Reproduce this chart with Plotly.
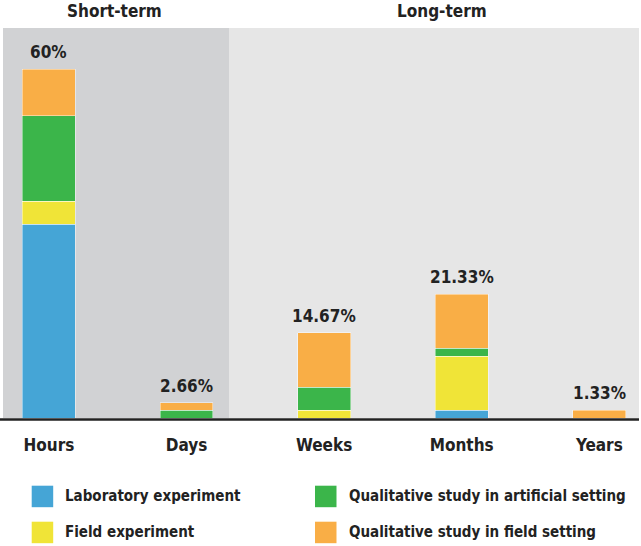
import plotly.graph_objects as go

# ---------------- data ----------------
categories = ["Hours", "Days", "Weeks", "Months", "Years"]
series_names = [
    "Laboratory experiment",
    "Field experiment",
    "Qualitative study in artificial setting",
    "Qualitative study in field setting",
]
lab_experiment = [33.33, 0.0, 0.0, 1.33, 0.0]
field_experiment = [4.0, 0.0, 1.33, 9.33, 0.0]
qual_artificial = [14.67, 1.33, 4.0, 1.33, 0.0]
qual_field = [8.0, 1.33, 9.33, 9.33, 1.33]
total_labels = ["60%", "2.66%", "14.67%", "21.33%", "1.33%"]
group_titles = ["Short-term", "Long-term"]

# ---------------- styles ----------------
colors = ["#45A5D6", "#F0E437", "#3BB54A", "#F9AE46"]
FONT = "DejaVu Sans Condensed, Liberation Sans Narrow, sans-serif"
TXT = "#222222"
W, H = 641, 546
L, R, T, B = 3, 2, 28, 128
PW, PH = W - L - R, H - T - B

def px_x(x):
    return (x - L) / PW

def px_y(y):
    return (H - B - y) / PH

series_values = [lab_experiment, field_experiment, qual_artificial, qual_field]

fig = go.Figure()
for name, vals, col in zip(series_names, series_values, colors):
    fig.add_trace(go.Bar(
        x=categories, y=vals, name=name,
        marker=dict(color=col, line=dict(color="rgba(255,255,255,0.55)", width=0.8)),
        width=0.385, showlegend=False, hoverinfo="skip",
    ))

totals = [sum(v) for v in zip(*series_values)]
annotations = []
for cat, tot, lab in zip(categories, totals, total_labels):
    annotations.append(dict(
        x=cat, y=tot, xref="x", yref="y", text=lab, showarrow=False,
        yanchor="bottom", yshift=5,
        font=dict(family=FONT, size=17, color=TXT, weight="bold"),
    ))

# group titles
for title, px in zip(group_titles, [114, 442]):
    annotations.append(dict(
        x=px_x(px), y=px_y(11), xref="paper", yref="paper", text=title,
        showarrow=False, xanchor="center", yanchor="middle",
        font=dict(family=FONT, size=17, color=TXT, weight="bold"),
    ))

shapes = [
    dict(type="rect", xref="paper", yref="paper", x0=0, x1=px_x(229), y0=0, y1=1,
         fillcolor="#D1D2D4", line=dict(width=0), layer="below"),
    dict(type="rect", xref="paper", yref="paper", x0=px_x(229), x1=1, y0=0, y1=1,
         fillcolor="#E6E6E6", line=dict(width=0), layer="below"),
    dict(type="line", xref="paper", yref="paper", x0=px_x(0), x1=1, y0=px_y(419.5), y1=px_y(419.5),
         line=dict(color=TXT, width=2.5), layer="above"),
]

# manual legend (2 columns x 2 rows)
col_sw_x = [31.7, 315]
row_sw_y = [485.7, 521.7]
sw = 21.5
for i, (name, col) in enumerate(zip(series_names, colors)):
    c, r = i // 2, i % 2
    x0, y0 = col_sw_x[c], row_sw_y[r]
    shapes.append(dict(type="rect", xref="paper", yref="paper",
                       x0=px_x(x0), x1=px_x(x0 + sw), y0=px_y(y0 + sw), y1=px_y(y0),
                       fillcolor=col, line=dict(width=0)))
    annotations.append(dict(
        x=px_x(x0 + sw + 10), y=px_y(y0 + sw / 2), xref="paper", yref="paper",
        text=name, showarrow=False, xanchor="left", yanchor="middle",
        font=dict(family=FONT, size=15, color=TXT, weight="bold"),
    ))

fig.update_layout(
    width=W, height=H,
    margin=dict(l=L, r=R, t=T, b=B, pad=0),
    barmode="stack",
    paper_bgcolor="white", plot_bgcolor="rgba(0,0,0,0)",
    font=dict(family=FONT, color=TXT),
    xaxis=dict(
        type="category", range=[-0.3336, 4.2885], showgrid=False, zeroline=False,
        showline=False, ticks="", ticklabelstandoff=15,
        tickfont=dict(family=FONT, size=17, color=TXT, weight="bold"),
    ),
    yaxis=dict(range=[0, 67.1], visible=False, showgrid=False, zeroline=False),
    shapes=shapes,
    annotations=annotations,
)

fig.write_html("out.html", config={"displayModeBar": False},
               post_script="document.body.style.margin='0';")
